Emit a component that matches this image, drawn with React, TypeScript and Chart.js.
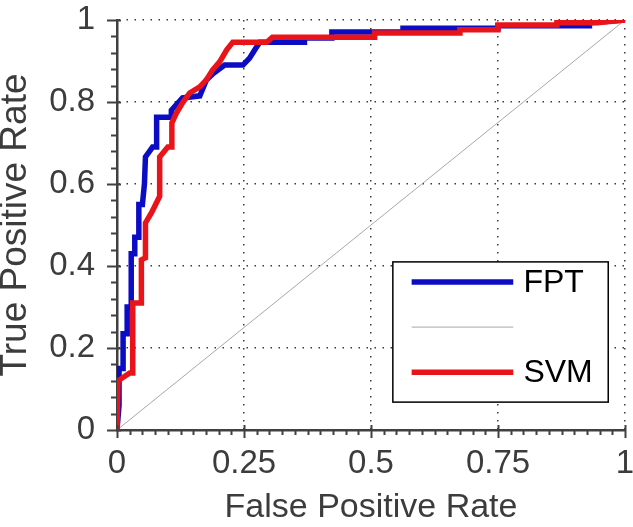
import { useEffect, useRef } from 'react';
import { Chart, registerables } from 'chart.js';

Chart.register(...registerables);

const seriesNames = ['FPT', '', 'SVM'];

const fptX = [0, 0.004, 0.004, 0.012, 0.012, 0.02, 0.02, 0.028, 0.028, 0.035, 0.035, 0.043, 0.043, 0.05, 0.054, 0.056, 0.07, 0.078, 0.078, 0.107, 0.107, 0.129, 0.163, 0.176, 0.19, 0.212, 0.248, 0.261, 0.271, 0.281, 0.369, 0.369, 0.423, 0.423, 0.563, 0.563, 0.75, 0.75, 0.93, 0.93, 1];
const fptY = [0, 0.06, 0.15, 0.15, 0.235, 0.235, 0.3, 0.3, 0.43, 0.43, 0.47, 0.47, 0.55, 0.55, 0.6, 0.666, 0.69, 0.69, 0.763, 0.763, 0.78, 0.81, 0.815, 0.854, 0.87, 0.89, 0.89, 0.907, 0.927, 0.946, 0.946, 0.956, 0.956, 0.971, 0.971, 0.98, 0.98, 0.986, 0.986, 0.993, 1];

const svmX = [0, 0.002, 0.025, 0.031, 0.031, 0.048, 0.048, 0.056, 0.056, 0.068, 0.084, 0.084, 0.1, 0.108, 0.108, 0.117, 0.129, 0.143, 0.163, 0.176, 0.188, 0.202, 0.216, 0.228, 0.295, 0.306, 0.507, 0.507, 0.675, 0.675, 0.75, 0.75, 0.866, 0.866, 0.945, 1];
const svmY = [0, 0.12, 0.139, 0.139, 0.31, 0.31, 0.415, 0.42, 0.505, 0.53, 0.57, 0.666, 0.69, 0.69, 0.749, 0.773, 0.798, 0.822, 0.837, 0.854, 0.878, 0.898, 0.927, 0.946, 0.946, 0.958, 0.958, 0.968, 0.968, 0.976, 0.976, 0.988, 0.988, 0.993, 0.993, 1];

const diagX = [0, 1];
const diagY = [0, 1];

const xTickLabels = ['0', '0.25', '0.5', '0.75', '1'];
const yTickLabels = ['0', '0.2', '0.4', '0.6', '0.8', '1'];

const FONT = "'Liberation Sans', Arial, sans-serif";
const TEXT = '#3c3c3c';
const AXIS = '#404040';
const BLUE = '#0c0cc4';
const RED = '#e8141a';
const GRAY = '#a8a8a8';

const pts = (xs: number[], ys: number[]) => xs.map((x, i) => ({ x, y: ys[i] }));

const decorPlugin = {
  id: 'decor',
  afterDraw(chart: any) {
    const { ctx, chartArea: a, scales } = chart;
    const xs = scales.x;
    const ys = scales.y;
    ctx.save();
    ctx.strokeStyle = AXIS;
    ctx.lineWidth = 2;
    // x ticks (minor every 0.025)
    for (let i = 0; i <= 40; i++) {
      const px = Math.round(xs.getPixelForValue(i / 40)) + 0.5;
      const major = i % 10 === 0;
      ctx.beginPath();
      ctx.moveTo(px, a.bottom - (major ? 5 : 0));
      ctx.lineTo(px, a.bottom + (major ? 8 : 5));
      ctx.stroke();
    }
    // y ticks (minor every 0.04)
    for (let i = 0; i <= 25; i++) {
      const py = Math.round(ys.getPixelForValue(i / 25)) + 0.5;
      const major = i % 5 === 0;
      ctx.beginPath();
      ctx.moveTo(a.left + (major ? 4 : 0), py);
      ctx.lineTo(a.left - (major ? 10 : 6), py);
      ctx.stroke();
    }
    // legend box
    const w = a.right - a.left;
    const h = a.bottom - a.top;
    const L = a.left + 0.543 * w;
    const R = a.left + 0.967 * w;
    const T = a.bottom - 0.41 * h;
    const B = a.bottom - 0.068 * h;
    ctx.fillStyle = '#ffffff';
    ctx.fillRect(L, T, R - L, B - T);
    ctx.strokeStyle = '#000000';
    ctx.lineWidth = 1.5;
    ctx.strokeRect(L, T, R - L, B - T);
    const lineL = a.left + 0.58 * w;
    const lineR = a.left + 0.78 * w;
    const textX = a.left + 0.8 * w;
    const rows = [0.361, 0.251, 0.141];
    const dsList = chart.data.datasets;
    const legendOrder = [2, 1, 0]; // FPT, diag, SVM dataset indexes
    ctx.font = `32px ${FONT}`;
    ctx.textBaseline = 'middle';
    ctx.textAlign = 'left';
    rows.forEach((r, k) => {
      const ds = dsList[legendOrder[k]];
      const yy = a.bottom - r * h;
      ctx.strokeStyle = ds.borderColor;
      ctx.lineWidth = ds.borderWidth;
      ctx.beginPath();
      ctx.moveTo(lineL, yy);
      ctx.lineTo(lineR, yy);
      ctx.stroke();
      if (seriesNames[k]) {
        ctx.fillStyle = '#000000';
        ctx.fillText(seriesNames[k], textX, yy + 1);
      }
    });
    ctx.restore();
  },
};

export default function App() {
  const ref = useRef<HTMLCanvasElement | null>(null);
  useEffect(() => {
    document.body.style.margin = '0';
    const canvas = ref.current;
    if (!canvas) return;
    const gridColor = (c: any) => (c.tick && c.tick.value === 0 ? 'rgba(0,0,0,0)' : '#3a3a3a');
    const chart = new Chart(canvas, {
      type: 'scatter',
      data: {
        datasets: [
          {
            label: seriesNames[2],
            data: pts(svmX, svmY),
            showLine: true,
            borderColor: RED,
            backgroundColor: RED,
            borderWidth: 5.5,
            pointRadius: 0,
            tension: 0,
            order: 0,
          },
          {
            label: 'diag',
            data: pts(diagX, diagY),
            showLine: true,
            borderColor: GRAY,
            backgroundColor: GRAY,
            borderWidth: 1,
            pointRadius: 0,
            order: 2,
          },
          {
            label: seriesNames[0],
            data: pts(fptX, fptY),
            showLine: true,
            borderColor: BLUE,
            backgroundColor: BLUE,
            borderWidth: 5.5,
            pointRadius: 0,
            tension: 0,
            order: 1,
          },
        ],
      },
      options: {
        animation: false,
        responsive: false,
        maintainAspectRatio: false,
        layout: { padding: { top: 20, right: 8, left: 0, bottom: 0 } },
        plugins: { legend: { display: false }, tooltip: { enabled: false } },
        scales: {
          x: {
            type: 'linear',
            min: 0,
            max: 1,
            ticks: {
              stepSize: 0.25,
              padding: 14,
              color: TEXT,
              font: { family: FONT, size: 33 },
              maxRotation: 0,
              autoSkip: false,
              callback: (_v: any, i: number) => xTickLabels[i],
            },
            grid: { color: gridColor, lineWidth: 1.5, drawTicks: false },
            border: { display: true, color: AXIS, width: 2.5, dash: [1.5, 6.5] },
            title: {
              display: true,
              text: 'False Positive Rate',
              color: TEXT,
              font: { family: FONT, size: 34, lineHeight: 1 },
              padding: { top: 0, bottom: 2 },
            },
            afterFit: (s: any) => {
              s.height = 97;
              s.paddingLeft = 0;
              s.paddingRight = 0;
            },
          },
          y: {
            type: 'linear',
            min: 0,
            max: 1,
            ticks: {
              stepSize: 0.2,
              padding: 22,
              color: TEXT,
              font: { family: FONT, size: 33 },
              autoSkip: false,
              callback: (_v: any, i: number) => yTickLabels[i],
            },
            grid: { color: gridColor, lineWidth: 1.5, drawTicks: false },
            border: { display: true, color: AXIS, width: 2.5, dash: [1.5, 6.5] },
            title: {
              display: true,
              text: 'True Positive Rate',
              color: TEXT,
              font: { family: FONT, size: 37, lineHeight: 0.85 },
              padding: { top: 0, bottom: 0 },
            },
            afterFit: (s: any) => {
              s.width = 117;
              s.paddingTop = 0;
              s.paddingBottom = 0;
            },
          },
        },
      },
      plugins: [decorPlugin],
    });
    return () => chart.destroy();
  }, []);
  return (
    <div style={{ width: 633, height: 527 }}>
      <canvas ref={ref} width={633} height={527} style={{ display: 'block', width: 633, height: 527 }} />
    </div>
  );
}
